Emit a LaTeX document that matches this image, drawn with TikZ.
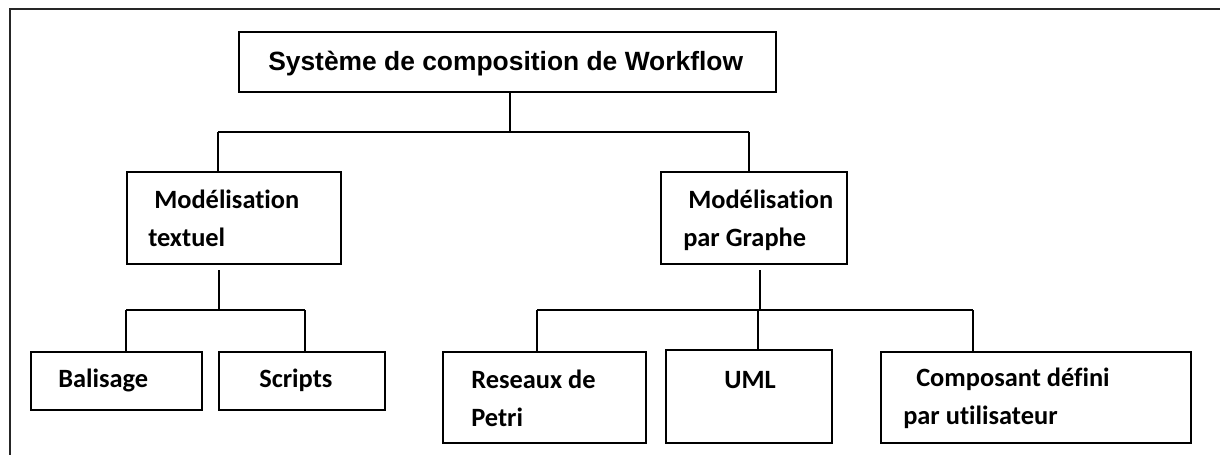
\documentclass[tikz,border=0pt]{standalone}
\usepackage{fontspec}
\setmainfont{Carlito}[Ligatures=NoCommon]
\newfontfamily\titlefont{Liberation Sans}
\usetikzlibrary{fit}
\begin{document}
\begin{tikzpicture}[x=0.75pt,y=-0.75pt,
  box/.style={draw=black, line width=1.3pt, inner sep=0pt, rectangle},
  link/.style={draw=black, line width=1pt},
  lbl/.style={anchor=base west, inner sep=0pt, font=\fontsize{19.8}{24}\selectfont\bfseries},
  frame/.style={draw=black!85, line width=1.5pt}]
\useasboundingbox (0,0) rectangle (1220,455);
% outer frame: top and left edges only
\coordinate (f0) at (10,9);
\coordinate (f1) at (1220,9);
\coordinate (f2) at (10,455);
\draw[frame] (f1) -- (f0) -- (f2);

% boxes
\node[box, fit={(239,32) (776,92)}] (top) {};
\node[box, fit={(127,172) (341,264)}] (mt) {};
\node[box, fit={(661,172) (847,264)}] (mg) {};
\node[box, fit={(31,352) (202,410)}] (bal) {};
\node[box, fit={(219,352) (385,410)}] (scr) {};
\node[box, fit={(443,352) (646,443)}] (rdp) {};
\node[box, fit={(666,350) (832,443)}] (uml) {};
\node[box, fit={(881,352) (1191,443)}] (cmp) {};

% labels
\node[anchor=base west, inner sep=0pt, font=\titlefont\fontsize{19.8}{24}\selectfont\bfseries] (ttop) at (268,70) {Système de composition de Workflow};
\node[lbl] (tmt1) at (154,208) {Modélisation};
\node[lbl] (tmt2) at (148,246) {textuel};
\node[lbl] (tmg1) at (688,208) {Modélisation};
\node[lbl] (tmg2) at (683,246) {par Graphe};
\node[lbl] (tbal) at (58,387) {Balisage};
\node[lbl] (tscr) at (259,387) {Scripts};
\node[lbl] (trdp1) at (471,388) {Reseaux de};
\node[lbl] (trdp2) at (471,426) {Petri};
\node[lbl] (tuml) at (724,388) {UML};
\node[lbl] (tcmp1) at (916,386) {Composant défini};
\node[lbl] (tcmp2) at (903,424) {par utilisateur};

% first level
\coordinate (j1) at (510,132);
\coordinate (h1l) at (218,132);
\coordinate (h1r) at (749,132);
\draw[link] (j1 |- top.south) -- (j1);
\draw[link] (h1l) -- (h1r);
\draw[link] (h1l) -- (h1l |- mt.north);
\draw[link] (h1r) -- (h1r |- mg.north);

% textual branch
\coordinate (s1) at (219,270);
\coordinate (j2) at (219,310);
\coordinate (h2l) at (126,310);
\coordinate (h2r) at (305,310);
\draw[link] (s1) -- (j2);
\draw[link] (h2l) -- (h2r);
\draw[link] (h2l) -- (h2l |- bal.north);
\draw[link] (h2r) -- (h2r |- scr.north);

% graph branch
\coordinate (s2) at (760,270);
\coordinate (j3) at (760,310);
\coordinate (h3l) at (537,310);
\coordinate (h3m) at (758,310);
\coordinate (h3r) at (973,310);
\draw[link] (s2) -- (j3);
\draw[link] (h3l) -- (h3r);
\draw[link] (h3l) -- (h3l |- rdp.north);
\draw[link] (h3m) -- (h3m |- uml.north);
\draw[link] (h3r) -- (h3r |- cmp.north);
\end{tikzpicture}
\end{document}
